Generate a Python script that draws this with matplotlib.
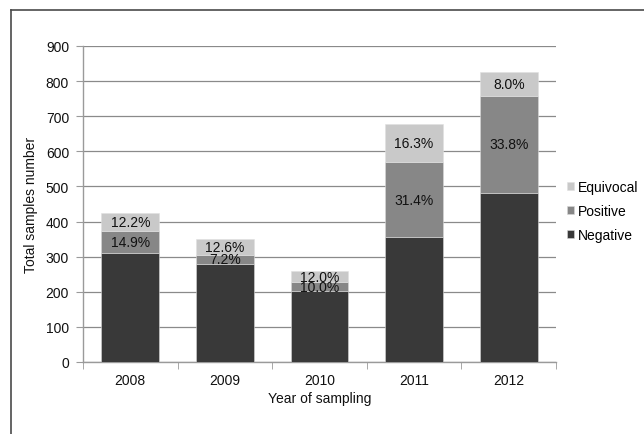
import matplotlib
matplotlib.use("Agg")
import matplotlib.pyplot as plt
import numpy as np
from matplotlib.lines import Line2D

plt.rcParams['font.family'] = ['Liberation Sans', 'DejaVu Sans']

# Data
years = ["2008", "2009", "2010", "2011", "2012"]
totals = [424, 349, 258, 679, 825]
positive_pct = [14.9, 7.2, 10.0, 31.4, 33.8]
equivocal_pct = [12.2, 12.6, 12.0, 16.3, 8.0]
series_names = ["Negative", "Positive", "Equivocal"]
y_ticks = [0, 100, 200, 300, 400, 500, 600, 700, 800, 900]

colors = {"Negative": "#393939", "Positive": "#878787", "Equivocal": "#c9c9c9"}

totals_a = np.array(totals, dtype=float)
pos = totals_a * np.array(positive_pct) / 100.0
equ = totals_a * np.array(equivocal_pct) / 100.0
neg = totals_a - pos - equ

W, H = 644, 435
fig = plt.figure(figsize=(W / 100, H / 100), dpi=100)
fig.patch.set_facecolor("white")

# outer frame (left and top edges)
fig.add_artist(Line2D([11 / W, 11 / W], [0, 1 - 11 / H], transform=fig.transFigure,
                      color="#4a4a4a", lw=1.2))
fig.add_artist(Line2D([11 / W, 1], [1 - 11 / H, 1 - 11 / H], transform=fig.transFigure,
                      color="#4a4a4a", lw=1.2))

ax = fig.add_axes([83 / W, (H - 363) / H, 473 / W, 316 / H])

x = np.arange(len(years))
bw = 0.61
b1 = ax.bar(x, neg, bw, color=colors["Negative"], label="Negative", zorder=3,
            edgecolor="#d8d8d8", linewidth=0.4)
b2 = ax.bar(x, pos, bw, bottom=neg, color=colors["Positive"], label="Positive", zorder=3,
            edgecolor="#d8d8d8", linewidth=0.4)
b3 = ax.bar(x, equ, bw, bottom=neg + pos, color=colors["Equivocal"], label="Equivocal",
            zorder=3, edgecolor="#e0e0e0", linewidth=0.4)

# percentage labels centred in their segments
for i in range(len(years)):
    ax.text(x[i], neg[i] + pos[i] / 2, f"{positive_pct[i]:.1f}%", ha="center", va="center",
            fontsize=10, color="#111111", zorder=4)
    ax.text(x[i], neg[i] + pos[i] + equ[i] / 2, f"{equivocal_pct[i]:.1f}%", ha="center",
            va="center", fontsize=10, color="#111111", zorder=4)

ax.set_xlim(-0.5, len(years) - 0.5)
ax.set_ylim(0, 900)
ax.set_yticks(y_ticks)
ax.set_xticks(x)
ax.set_xticklabels(years)
ax.set_xticks(np.arange(len(years) + 1) - 0.5, minor=True)

ax.grid(axis="y", color="#8a8a8a", linewidth=0.9, zorder=0)
ax.set_axisbelow(True)

for s in ["top", "right"]:
    ax.spines[s].set_visible(False)
for s in ["left", "bottom"]:
    ax.spines[s].set_color("#9a9a9a")
    ax.spines[s].set_linewidth(1.0)

ax.tick_params(axis="y", which="major", length=5, color="#9a9a9a", labelsize=10,
               labelcolor="#111111", pad=5)
ax.tick_params(axis="x", which="major", length=0, labelsize=10, labelcolor="#111111", pad=8)
ax.tick_params(axis="x", which="minor", length=5, color="#9a9a9a")

ax.set_ylabel("Total samples number", fontsize=10, color="#111111", labelpad=5.5)
ax.set_xlabel("Year of sampling", fontsize=10, color="#111111", labelpad=3)

handles = [b3, b2, b1]
leg = ax.legend(handles, ["Equivocal", "Positive", "Negative"], loc="center left",
                bbox_to_anchor=(1.012, 0.478), frameon=False, fontsize=10,
                handlelength=0.5, handleheight=0.5, handletextpad=0.3, labelspacing=0.75,
                borderaxespad=0)

fig.savefig("out.png", dpi=100, facecolor="white")
